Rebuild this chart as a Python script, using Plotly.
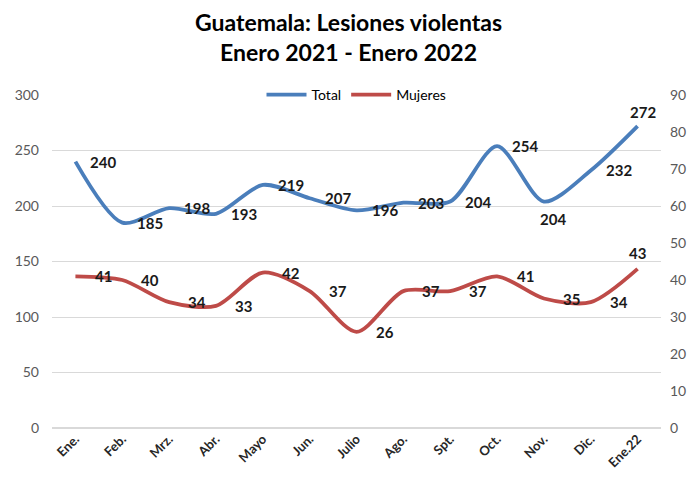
import plotly.graph_objects as go

months = ["Ene.", "Feb.", "Mrz.", "Abr.", "Mayo", "Jun.", "Julio", "Ago.", "Spt.", "Oct.", "Nov.", "Dic.", "Ene.22"]
total = [240, 185, 198, 193, 219, 207, 196, 203, 204, 254, 204, 232, 272]
mujeres = [41, 40, 34, 33, 42, 37, 26, 37, 37, 41, 35, 34, 43]

FONT = "Lato"
OFF = 8  # default page body margin in the exported html

fig = go.Figure()
fig.add_trace(go.Scatter(
    x=months, y=total, name="Total", mode="lines",
    line=dict(color="#4A7EBB", width=3.8, shape="spline", smoothing=0.8),
))
fig.add_trace(go.Scatter(
    x=months, y=mujeres, name="Mujeres", mode="lines", yaxis="y2",
    line=dict(color="#BE4B48", width=3.8, shape="spline", smoothing=0.8),
))

# label placement: default to the right of the point; a few moved like the reference
DEFAULT_SHIFT = (28, 0)
shift_total = {"Nov.": (9, -17), "Ene.22": (5, 14)}
shift_muj = {"Ene.22": (0, 16)}

annotations = []
for series, axis, overrides in ((total, "y", shift_total), (mujeres, "y2", shift_muj)):
    for m, v in zip(months, series):
        xs, ys = overrides.get(m, DEFAULT_SHIFT)
        annotations.append(dict(x=m, y=v, xref="x", yref=axis, text=f"<b>{v}</b>",
                                showarrow=False, xshift=xs, yshift=ys,
                                font=dict(family=FONT, size=15, color="#1a1a1a")))

W, H = 697 - 2 * OFF, 483 - 2 * OFF
fig.update_layout(
    width=W, height=H,
    paper_bgcolor="white", plot_bgcolor="white",
    margin=dict(l=52 - OFF, r=W - (661 - OFF), t=95 - OFF, b=H - (428 - OFF), autoexpand=False),
    font=dict(family=FONT, color="#595959"),
    title=dict(text="<b>Guatemala: Lesiones violentas<br>Enero 2021 - Enero 2022</b>",
               x=0.5, xanchor="center", y=(H - (31 - OFF)) / H, yanchor="middle",
               font=dict(family=FONT, size=23, color="#000000")),
    xaxis=dict(type="category", range=[-0.5, 12.5], tickangle=-45,
               tickfont=dict(size=13, color="#262626", weight="bold"), showgrid=False,
               showline=False, ticks=""),
    yaxis=dict(range=[0, 300], dtick=50, gridcolor="#D9D9D9", gridwidth=1,
               zeroline=True, zerolinecolor="#D9D9D9",
               tickfont=dict(size=14, color="#595959"), ticks="", ticklabelstandoff=12),
    yaxis2=dict(range=[0, 90], dtick=10, overlaying="y", side="right",
                showgrid=False, zeroline=False,
                tickfont=dict(size=14, color="#595959"), ticks="", ticklabelstandoff=8),
    legend=dict(orientation="h", x=0.5, xanchor="center", y=1.0, yanchor="middle",
                font=dict(size=14, color="#000000"), bgcolor="rgba(0,0,0,0)",
                itemwidth=40, tracegroupgap=0),
    annotations=annotations,
    showlegend=True,
)

fig.write_html("out.html")
